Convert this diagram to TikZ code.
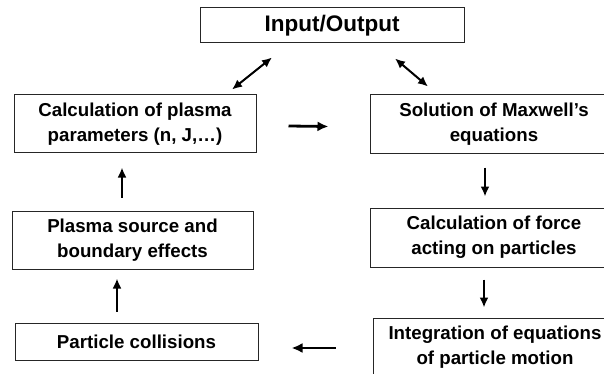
\documentclass[tikz,border=0pt]{standalone}
\usepackage{fontspec}
\setmainfont{Liberation Sans}
\usetikzlibrary{arrows.meta}
\begin{document}
\begin{tikzpicture}[x=1pt,y=-1pt,
  box/.style={draw=black!85, line width=1pt, align=center, inner sep=0pt,
    font=\bfseries\fontsize{18.7}{25}\selectfont},
  arr/.style={line width=2pt, -{Latex[length=10pt,width=9pt]}},
  darr/.style={line width=2pt, {Latex[length=10pt,width=9pt]}-{Latex[length=10pt,width=9pt]}},
  harr/.style={line width=2.8pt, -{Latex[length=11pt,width=10pt]}}]
\clip (0,0) rectangle (604,374);
\fill[white] (0,0) rectangle (604,374);
\node[box, minimum width=264pt, minimum height=35pt, font=\bfseries\fontsize{22.5}{26}\selectfont] (io) at (332,25.5) {Input/Output};
\node[box, minimum width=242pt, minimum height=58pt] (calc) at (135,124) {Calculation of plasma\\parameters (n, J,…)};
\node[box, minimum width=241pt, minimum height=58pt] (src) at (132.5,240) {Plasma source and\\boundary effects};
\node[box, minimum width=243pt, minimum height=37pt] (coll) at (136.5,341.5) {Particle collisions};
\node[box, minimum width=248pt, minimum height=59pt] (sol) at (494,124.5) {Solution of Maxwell’s\\equations};
\node[box, minimum width=248pt, minimum height=59pt] (force) at (494,237.5) {Calculation of force\\acting on particles};
\node[box, minimum width=244pt, minimum height=58pt] (integ) at (495,347) {Integration of equations\\of particle motion};
\draw[darr] ([xshift=-60pt,yshift=-14pt]io.south) -- ([xshift=97pt,yshift=5pt]calc.north);
\draw[darr] ([xshift=63pt,yshift=-15pt]io.south) -- ([xshift=-66pt,yshift=8pt]sol.north);
\draw[harr] ([xshift=32pt,yshift=-2pt]calc.east) -- ([xshift=-41pt,yshift=-2pt]sol.west);
\draw[arr] ([xshift=-9pt,yshift=-13pt]sol.south) -- ([xshift=-9pt,yshift=11pt]force.north);
\draw[arr] ([xshift=-10pt,yshift=-12pt]force.south) -- ([xshift=-11pt,yshift=10pt]integ.north);
\draw[harr] ([xshift=-37pt,yshift=-1pt]integ.west) -- ([xshift=33pt,yshift=-6.5pt]coll.east);
\draw[arr] ([xshift=-19.5pt,yshift=11pt]coll.north) -- ([xshift=-15.5pt,yshift=-9pt]src.south);
\draw[arr] ([xshift=-10.5pt,yshift=13pt]src.north) -- ([xshift=-13pt,yshift=-14pt]calc.south);
\end{tikzpicture}
\end{document}
